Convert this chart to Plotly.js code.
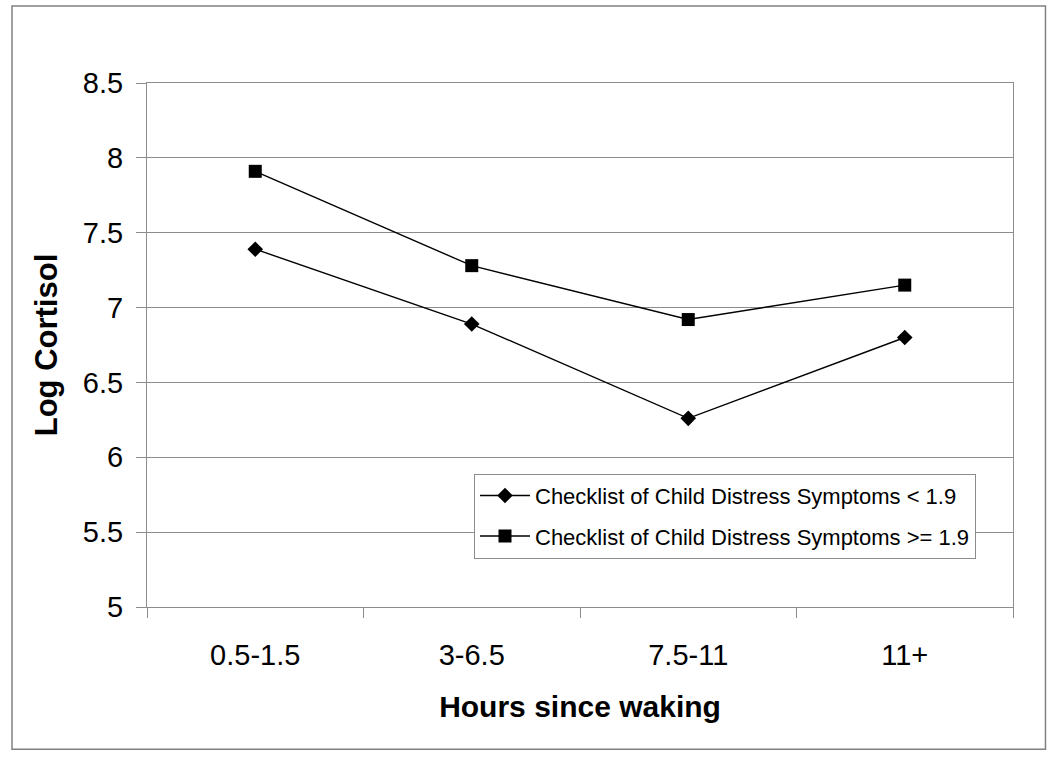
<!DOCTYPE html>
<html>
<head>
<meta charset="utf-8">
<script src="https://cdn.plot.ly/plotly-3.0.1.min.js"></script>
<style>
  html, body { margin: 0; padding: 0; background: #ffffff; }
  #chart { width: 1050px; height: 761px; }
</style>
</head>
<body>
<div id="chart"></div>
<script>
const categories = ["0.5-1.5", "3-6.5", "7.5-11", "11+"];
const lowDistress = [7.39, 6.89, 6.26, 6.80];
const highDistress = [7.91, 7.28, 6.92, 7.15];
const seriesNames = [
  "Checklist of Child Distress Symptoms < 1.9",
  "Checklist of Child Distress Symptoms >= 1.9"
];
const yTickValues = [5, 5.5, 6, 6.5, 7, 7.5, 8, 8.5];
const yTickLabels = ["5", "5.5", "6", "6.5", "7", "7.5", "8", "8.5"];

const FONT = "'Liberation Sans', Arial, Helvetica, sans-serif";
const GRID = "#8c8c8c";

const traces = [
  {
    x: categories, y: lowDistress, name: seriesNames[0],
    type: "scatter", mode: "lines+markers",
    legendgroup: "a",
    line: { color: "#000000", width: 1.4 },
    marker: { symbol: "diamond", size: 12, color: "#000000" }
  },
  {
    x: categories, y: highDistress, name: seriesNames[1],
    type: "scatter", mode: "lines+markers",
    legendgroup: "b",
    line: { color: "#000000", width: 1.4 },
    marker: { symbol: "square", size: 13, color: "#000000" }
  }
];

const layout = {
  width: 1050, height: 761,
  paper_bgcolor: "#ffffff", plot_bgcolor: "#ffffff",
  margin: { l: 147, r: 37, t: 83, b: 153.5, pad: 0 },
  font: { family: FONT, color: "#000000" },
  showlegend: true,
  legend: {
    x: 0.3776, y: 0.2545, xanchor: "left", yanchor: "top",
    bgcolor: "#ffffff", bordercolor: GRID, borderwidth: 1,
    font: { family: FONT, size: 22, color: "#000000" },
    traceorder: "grouped", tracegroupgap: 9,
    itemwidth: 50
  },
  xaxis: {
    type: "category",
    range: [-0.5, 3.5],
    tickson: "boundaries",
    ticks: "outside", ticklen: 10, tickcolor: GRID, tickwidth: 1,
    showline: true, linecolor: GRID, linewidth: 1, mirror: true,
    showgrid: false, zeroline: false,
    tickfont: { family: FONT, size: 29, color: "#000000" },
    ticklabelstandoff: 22,
    title: { text: "<b>Hours since waking</b>", font: { family: FONT, size: 30, color: "#000000" }, standoff: 26 }
  },
  yaxis: {
    range: [5, 8.5],
    tickmode: "array", tickvals: yTickValues, ticktext: yTickLabels,
    ticks: "outside", ticklen: 10, tickcolor: GRID, tickwidth: 1,
    showline: true, linecolor: GRID, linewidth: 1, mirror: true,
    showgrid: true, gridcolor: GRID, gridwidth: 1, zeroline: false,
    tickfont: { family: FONT, size: 29, color: "#000000" },
    ticklabelstandoff: 7,
    title: { text: "<b>Log Cortisol</b>", font: { family: FONT, size: 31, color: "#000000" }, standoff: 16 }
  },
  shapes: [
    {
      type: "rect", xref: "paper", yref: "paper",
      x0: -0.1559, x1: 1.0375, y0: -0.2717, y1: 1.1468,
      line: { color: "#808080", width: 1.5 }, fillcolor: "rgba(0,0,0,0)",
      layer: "below"
    }
  ]
};

Plotly.newPlot("chart", traces, layout, { displayModeBar: false, staticPlot: true });
</script>
</body>
</html>
